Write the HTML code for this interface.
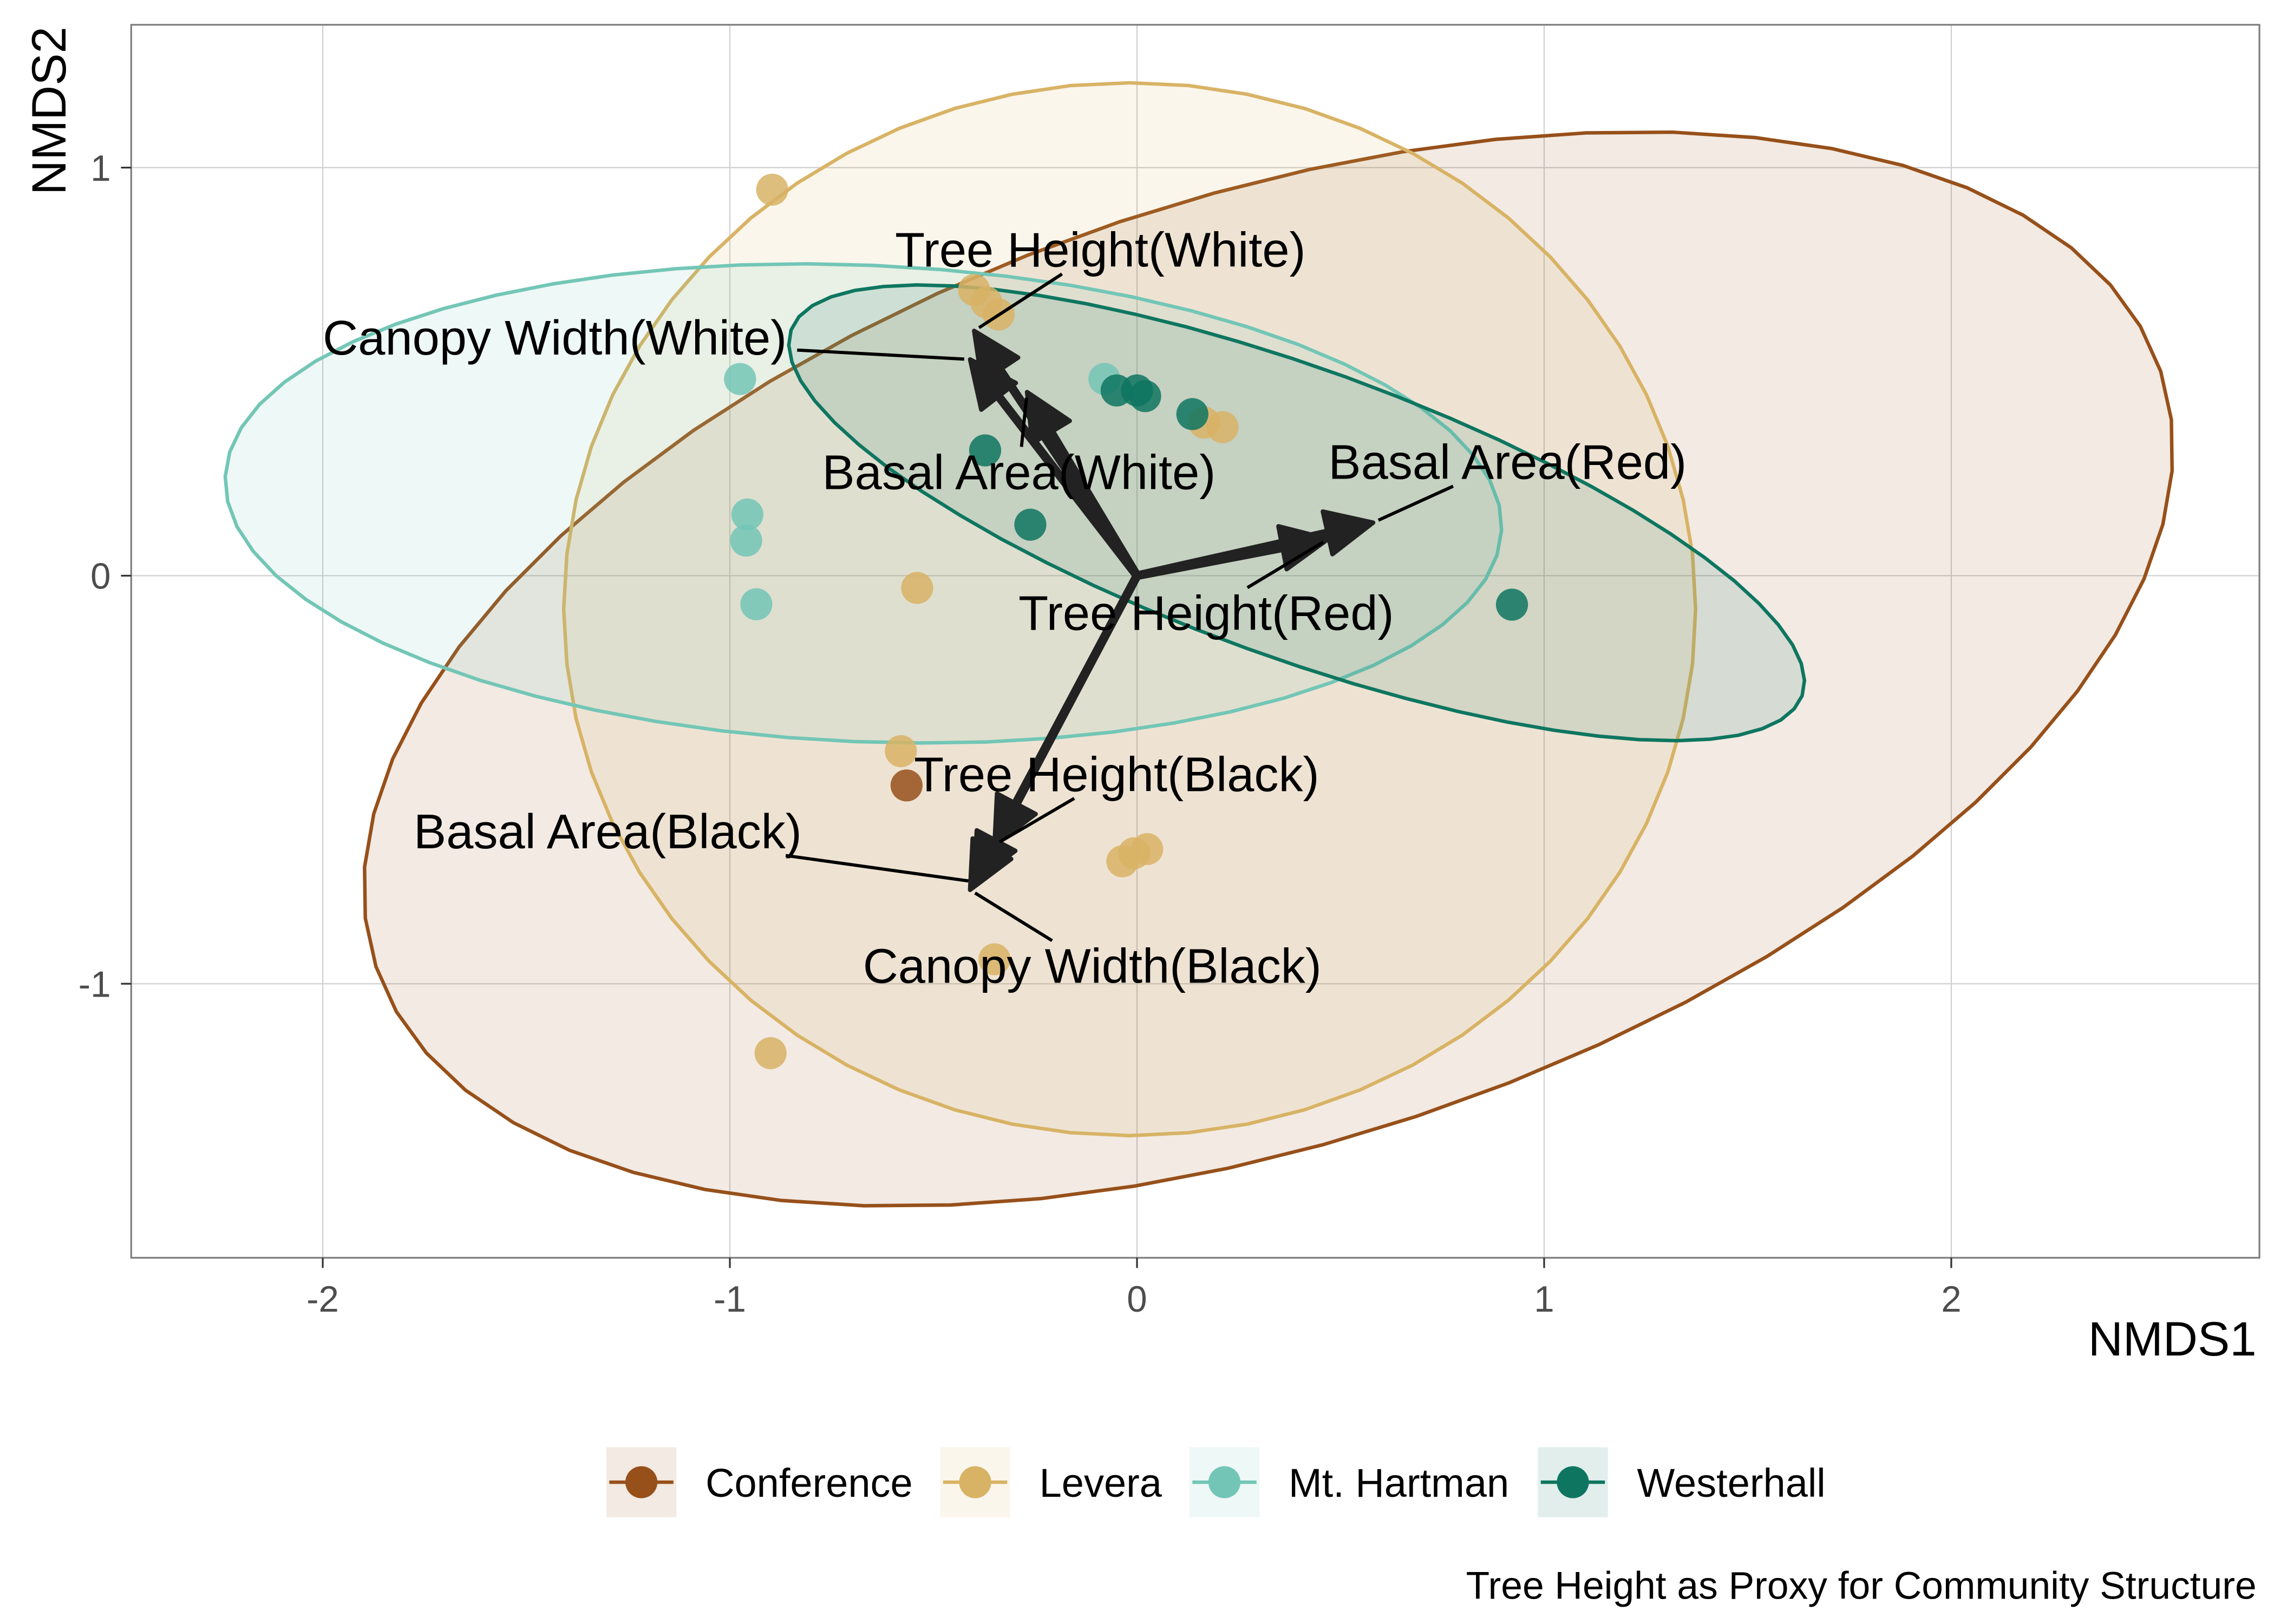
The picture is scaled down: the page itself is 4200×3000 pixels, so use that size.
<!DOCTYPE html>
<html><head><meta charset="utf-8"><style>
html,body{margin:0;padding:0;background:#fff;}
svg{display:block;font-family:"Liberation Sans",Arial,sans-serif;}
</style></head><body>
<svg id="chart" width="4200" height="3000" viewBox="0 0 1560 1114.29" preserveAspectRatio="none" xmlns="http://www.w3.org/2000/svg">
<defs><clipPath id="pc"><rect x="90" y="17" width="1460" height="846"/></clipPath></defs>
<rect x="0" y="0" width="1560" height="1114.29" fill="#fff"/>
<g id="grid"></g>
<g id="ell" clip-path="url(#pc)"></g>
<g id="pts" clip-path="url(#pc)"></g>
<g id="arr"></g>
<g id="lab"></g>
<rect x="90" y="17" width="1460" height="846" fill="none" stroke="#7f7f7f" stroke-width="1.2"/>
<g id="axes"></g>
<text x="1548" y="930" text-anchor="end" font-size="33">NMDS1</text>
<text transform="translate(45,76) rotate(-90)" text-anchor="middle" font-size="33">NMDS2</text>
<g id="legend"></g>
<text x="1548" y="1097" text-anchor="end" font-size="26.5">Tree Height as Proxy for Community Structure</text>
</svg>
<script>
const groups = ["Conference","Levera","Mt. Hartman","Westerhall"];
const colors = ["#97501a","#d8b365","#73c6b6","#0e7660"];
const xTicks = [-2,-1,0,1,2];
const yTicks = [-1,0,1];
const ptGroup = [1,1,1,1,1,1,1,1,1,1,1,1,1,0,2,2,2,2,2,3,3,3,3,3,3,3];
const ptX = [-0.896,-0.40,-0.34,-0.37,0.165,0.21,-0.54,-0.58,-0.036,-0.007,0.025,-0.35,-0.90,-0.566,-0.975,-0.957,-0.96,-0.935,-0.08,-0.373,-0.262,-0.05,0,0.02,0.136,0.921];
const ptY = [0.946,0.70,0.64,0.67,0.375,0.364,-0.03,-0.43,-0.70,-0.68,-0.67,-0.94,-1.17,-0.514,0.482,0.15,0.086,-0.07,0.482,0.307,0.125,0.454,0.454,0.44,0.396,-0.071];
const ellCX = [0.3226,-0.018,-0.672,0.392];
const ellCY = [-0.2286,-0.082,0.177,0.154];
const ellA = [2.31,1.39,1.569,1.32];
const ellB = [1.155,1.29,0.584,0.354];
const ellAng = [18.4,0,-2.4,-19.85];
const vecName = ["Tree Height(White)","Canopy Width(White)","Basal Area(White)","Basal Area(Red)","Tree Height(Red)","Tree Height(Black)","Basal Area(Black)","Canopy Width(Black)"];
const vecX = [-0.40,-0.41,-0.27,0.58,0.47,-0.35,-0.40,-0.41];
const vecY = [0.60,0.53,0.45,0.13,0.09,-0.66,-0.75,-0.77];
const labX = [-0.09,-1.43,-0.29,0.91,0.17,-0.05,-1.30,-0.11];
const labY = [0.80,0.585,0.255,0.28,-0.09,-0.485,-0.625,-0.955];

const NS="http://www.w3.org/2000/svg";
function X(v){return 780+279.3*v;}
function Y(v){return 395-280*v;}
function mk(tag,attrs,parent){const e=document.createElementNS(NS,tag);for(const k in attrs)e.setAttribute(k,attrs[k]);parent.appendChild(e);return e;}
const grid=document.getElementById('grid');
xTicks.forEach(t=>{
  const l=mk('line',{x1:X(t),x2:X(t),y1:17,y2:863,stroke:'#cfcfcf','stroke-width':0.8},grid);
  
  
});
yTicks.forEach(t=>{
  const l=mk('line',{x1:90,x2:1550,y1:Y(t),y2:Y(t),stroke:'#cfcfcf','stroke-width':0.8},grid);
  
  
});
const axes=document.getElementById('axes');
xTicks.forEach(t=>{
  const tk=mk('line',{x1:X(t),x2:X(t),y1:863,y2:870,stroke:'#333','stroke-width':1.2},axes);
  
  
  const tx=mk('text',{x:X(t),y:900,'text-anchor':'middle','font-size':25,fill:'#4d4d4d'},axes);
  tx.textContent=String(t);
  
  
});
yTicks.forEach(t=>{
  const tk=mk('line',{x1:83,x2:90,y1:Y(t),y2:Y(t),stroke:'#333','stroke-width':1.2},axes);
  
  
  const tx=mk('text',{x:76,y:Y(t)+9,'text-anchor':'end','font-size':25,fill:'#4d4d4d'},axes);
  tx.textContent=String(t);
  
  
});
const ell=document.getElementById('ell');
groups.forEach((g,i)=>{
  const th=ellAng[i]*Math.PI/180;let pts=[];
  for(let k=0;k<60;k++){const t=k/60*2*Math.PI;
    const dx=ellA[i]*Math.cos(t)*Math.cos(th)-ellB[i]*Math.sin(t)*Math.sin(th);
    const dy=ellA[i]*Math.cos(t)*Math.sin(th)+ellB[i]*Math.sin(t)*Math.cos(th);
    pts.push(X(ellCX[i]+dx).toFixed(1)+','+Y(ellCY[i]+dy).toFixed(1));}
  const p=mk('polygon',{points:pts.join(' '),fill:colors[i],'fill-opacity':0.12,stroke:colors[i],'stroke-width':2.4},ell);
  
  
});
const ptsG=document.getElementById('pts');
ptX.forEach((x,i)=>{
  const c=mk('circle',{cx:X(x),cy:Y(ptY[i]),r:11,fill:colors[ptGroup[i]],'fill-opacity':0.85},ptsG);
  
  
});
const arr=document.getElementById('arr');
vecX.forEach((vx,i)=>{
  const x0=X(0),y0=Y(0),x1=X(vx),y1=Y(vecY[i]);
  const dx=x1-x0,dy=y1-y0,L=Math.hypot(dx,dy),ux=dx/L,uy=dy/L;
  const h=32,w=15,bx=x1-ux*h,by=y1-uy*h;
  const g=mk('g',{},arr);
  
  
  mk('line',{x1:x0,y1:y0,x2:bx,y2:by,stroke:'#222','stroke-width':6},g);
  mk('polygon',{points:`${x1},${y1} ${bx-uy*w},${by+ux*w} ${bx+uy*w},${by-ux*w}`,fill:'#222',stroke:'#222','stroke-width':3,'stroke-linejoin':'round'},g);
});
const lab=document.getElementById('lab');
vecName.forEach((n,i)=>{
  const lx=X(labX[i]),ly=Y(labY[i]),ex=X(vecX[i]),ey=Y(vecY[i]);
  const tw=n.length*17.5/2, th=17;
  let sx=lx,sy=ly;const dx=ex-lx,dy=ey-ly;
  const s=Math.min(Math.abs(tw/(dx||1e-6)),Math.abs(th/(dy||1e-6)));
  sx=lx+dx*s;sy=ly+dy*s;
  const L=Math.hypot(ex-sx,ey-sy);
  if(L>8){const ln=mk('line',{x1:sx,y1:sy,x2:ex-(ex-sx)/L*4,y2:ey-(ey-sy)/L*4,stroke:'#000','stroke-width':2.2},lab);
    
    }
  const t=mk('text',{x:lx,y:ly+12,'text-anchor':'middle','font-size':33.5,fill:'#000'},lab);
  t.textContent=n;
  
  
});
const leg=document.getElementById('legend');
const keyX=[416,645,816,1055];
groups.forEach((g,i)=>{
  const gg=mk('g',{},leg);
  
  
  mk('rect',{x:keyX[i],y:993,width:48,height:48,fill:colors[i],'fill-opacity':0.12},gg);
  mk('line',{x1:keyX[i]+2,x2:keyX[i]+46,y1:1017,y2:1017,stroke:colors[i],'stroke-width':2.4},gg);
  mk('circle',{cx:keyX[i]+24,cy:1017,r:11,fill:colors[i]},gg);
  const t=mk('text',{x:keyX[i]+68,y:1027,'font-size':27.5},gg);
  t.textContent=g;
});
</script>
</body></html>
